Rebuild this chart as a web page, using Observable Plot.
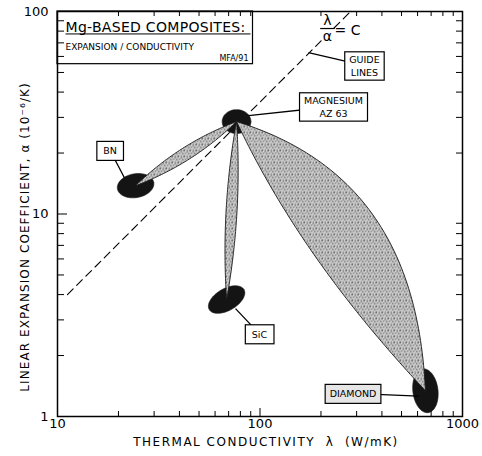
<!DOCTYPE html>
<html><head><meta charset="utf-8">
<script src="https://cdn.jsdelivr.net/npm/d3@7"></script>
<script src="https://cdn.jsdelivr.net/npm/@observablehq/plot@0.6"></script>
<style>html,body{margin:0;padding:0;background:#fff}</style>
</head><body><div id="chart"></div>
<script>
// ---------- data ----------
const materials = ["Magnesium AZ 63", "BN", "SiC", "Diamond"];
const matLambda = [76.6, 24.3, 68.4, 656];      // W/mK (ellipse centres)
const matAlpha  = [28.6, 13.8, 3.78, 1.34];     // 1e-6/K
const matSpreadMajor = [0.071, 0.091, 0.099, 0.109]; // decades
const matSpreadMinor = [0.059, 0.059, 0.054, 0.062]; // decades
const matTilt = [0, 10, 30, 97];                // degrees

const compFrom = [0, 0, 0];
const compTo = [1, 2, 3];
const compBulgeLeft = [0.031, 0.027, 0.286];
const compBulgeRight = [0.031, 0.027, 0.064];
const compSkew = [0, 0, 0.2];

const guideC = 2.8;
const guideLambdaStart = 11.2;
const fracLambda = 215.4, fracAlpha = 82.4, fracHalfWidth = 0.036;

const labelText = ["MAGNESIUM\nAZ 63", "GUIDE\nLINES", "BN", "SiC", "DIAMOND"];
const labelLambda = [230.7, 328, 18.2, 99.4, 288];
const labelAlpha = [33.95, 54.1, 20.6, 2.56, 1.30];
const leaderLambda = [87.8, 173.6, 21.4, 75.7, 606];
const leaderAlpha = [30.6, 62.7, 15.1, 3.41, 1.26];
const labelFill = ["white", "white", "white", "white", "#e6e6e6"];

const titleMain = "Mg-BASED COMPOSITES:";
const titleSub = "EXPANSION / CONDUCTIVITY";
const titleRef = "MFA/91";
const xTitle = "THERMAL CONDUCTIVITY  λ  (W/mK)";
const yTitle = "LINEAR EXPANSION COEFFICIENT, α (10⁻⁶/K)";

const xMajor = [10, 100, 1000];
const xMinor = [20, 30, 40, 50, 60, 70, 80, 90, 200, 300, 400, 500, 600, 700, 800, 900];
const yMajor = [1, 10, 100];
const yMinor = [2, 3, 4, 5, 6, 7, 8, 9, 20, 30, 40, 50, 60, 70, 80, 90];

// ---------- layout ----------
const W = 482, H = 456, mL = 57, mR = 20, mT = 11, mB = 40;
const innerW = W - mL - mR, innerH = H - mT - mB;
const FONT = '"DejaVu Sans", sans-serif';
const log = Math.log10;

function ellipseRows() {
  const rows = [];
  materials.forEach((name, i) => {
    const cx = log(matLambda[i]), cy = log(matAlpha[i]);
    const a = matSpreadMajor[i], b = matSpreadMinor[i], th = matTilt[i] * Math.PI / 180;
    for (let k = 0; k <= 72; k++) {
      const t = 2 * Math.PI * k / 72, ex = a * Math.cos(t), ey = b * Math.sin(t);
      rows.push({name, lambda: 10 ** (cx + ex * Math.cos(th) - ey * Math.sin(th)),
                 alpha: 10 ** (cy + ex * Math.sin(th) + ey * Math.cos(th))});
    }
  });
  return rows;
}
function lensRows() {
  const rows = [];
  compFrom.forEach((f, j) => {
    const to = compTo[j];
    const x0 = log(matLambda[f]), y0 = log(matAlpha[f]), x1 = log(matLambda[to]), y1 = log(matAlpha[to]);
    const dx = x1 - x0, dy = y1 - y0, L = Math.hypot(dx, dy), nx = -dy / L, ny = dx / L;
    const name = materials[f] + " + " + materials[to];
    const s = compSkew[j], N = 60;
    const prof = t => 4 * t * (1 - t) * (1 + s * (0.5 - t));
    for (let k = 0; k <= N; k++) { const t = k / N, p = prof(t) * compBulgeLeft[j];
      rows.push({name, lambda: 10 ** (x0 + t * dx + nx * p), alpha: 10 ** (y0 + t * dy + ny * p)}); }
    for (let k = N; k >= 0; k--) { const t = k / N, p = prof(t) * compBulgeRight[j];
      rows.push({name, lambda: 10 ** (x0 + t * dx - nx * p), alpha: 10 ** (y0 + t * dy - ny * p)}); }
  });
  return rows;
}
const guideRows = [{lambda: guideLambdaStart, alpha: guideLambdaStart / guideC}, {lambda: 100 * guideC, alpha: 100}];
const labels = labelText.map((t, i) => ({t, x: labelLambda[i], y: labelAlpha[i], lx: leaderLambda[i], ly: leaderAlpha[i]}));
const one = [0];

const plot = Plot.plot({
  width: W, height: H, marginLeft: mL, marginRight: mR, marginTop: mT, marginBottom: mB,
  x: {type: "log", domain: [10, 1000], axis: null},
  y: {type: "log", domain: [1, 100], axis: null},
  style: {fontFamily: FONT, fontSize: "10px", background: "white", color: "black"},
  marks: [
    Plot.line(guideRows, {x: "lambda", y: "alpha", stroke: "black", strokeWidth: 1.1, strokeDasharray: "8,5"}),
    Plot.text(one, {x: () => fracLambda, y: () => fracAlpha, text: () => "λ", dy: -8, fontSize: 14, stroke: "white", strokeWidth: 5, fill: "black"}),
    Plot.text(one, {x: () => fracLambda, y: () => fracAlpha, text: () => "α", dy: 8, fontSize: 14, stroke: "white", strokeWidth: 5, fill: "black"}),
    Plot.link(one, {x1: () => fracLambda / 10 ** fracHalfWidth, x2: () => fracLambda * 10 ** fracHalfWidth,
                    y1: () => fracAlpha, y2: () => fracAlpha, stroke: "black", strokeWidth: 1.2}),
    Plot.text(one, {x: () => fracLambda, y: () => fracAlpha, text: () => "= C", dx: 20, dy: 2, fontSize: 14, fill: "black"}),
    Plot.line(ellipseRows(), {x: "lambda", y: "alpha", z: "name", fill: "#141414", stroke: "#141414", strokeWidth: 0.6}),
    Plot.line(lensRows(), {x: "lambda", y: "alpha", z: "name", fill: "#b4b4b4", stroke: "#1a1a1a", strokeWidth: 0.9, ariaDescription: "lenses"}),
    Plot.link(labels, {x1: "lx", y1: "ly", x2: "x", y2: "y", stroke: "black", strokeWidth: 1.3}),
    Plot.text(labels, {x: "x", y: "y", text: "t", fontSize: 9.5, lineHeight: 1.3, fill: "black", ariaDescription: "boxlabels"}),
    Plot.text(one, {frameAnchor: "top-left", text: () => titleMain, dx: 8, dy: 11, textAnchor: "start", fontSize: 14, fill: "black", ariaDescription: "titlemain"}),
    Plot.text(one, {frameAnchor: "top-left", text: () => titleSub, dx: 8, dy: 32.5, textAnchor: "start", fontSize: 9, fill: "black"}),
    Plot.text(one, {frameAnchor: "top-left", text: () => titleRef, dx: 191, dy: 43.5, textAnchor: "end", fontSize: 8, fill: "black", ariaDescription: "titleref"}),
    Plot.tickX(xMinor, {x: d => d, insetTop: innerH - 5, stroke: "black", strokeWidth: 1}),
    Plot.tickX(xMajor, {x: d => d, insetTop: innerH - 8, stroke: "black", strokeWidth: 1}),
    Plot.tickX(xMinor, {x: d => d, insetBottom: innerH - 5, stroke: "black", strokeWidth: 1}),
    Plot.tickY(yMinor, {y: d => d, insetRight: innerW - 7, stroke: "black", strokeWidth: 1}),
    Plot.tickY(yMajor, {y: d => d, insetRight: innerW - 10, stroke: "black", strokeWidth: 1}),
    Plot.tickY(yMinor, {y: d => d, insetLeft: innerW - 6, stroke: "black", strokeWidth: 1}),
    Plot.text(xMajor, {x: d => d, frameAnchor: "bottom", dy: 11, text: d => String(d), fontSize: 13, fill: "black"}),
    Plot.text(yMajor, {y: d => d, frameAnchor: "left", dx: -9, textAnchor: "end", text: d => String(d), fontSize: 13, fill: "black"}),
    Plot.text(one, {frameAnchor: "bottom", text: () => xTitle, dx: 6, dy: 29, textAnchor: "middle", fontSize: 12, fill: "black", ariaDescription: "xtitle"}),
    Plot.text(one, {frameAnchor: "left", text: () => yTitle, rotate: -90, dx: -32, dy: 23, textAnchor: "middle", fontSize: 12, fill: "black", ariaDescription: "ytitle"}),
    Plot.frame({stroke: "black", strokeWidth: 1.5})
  ]
});
document.getElementById("chart").append(plot);

// ---------- post-processing: stipple, boxes, spacing ----------
const ns = "http://www.w3.org/2000/svg";
const svg = plot;
const q = d => svg.querySelector(`g[aria-description="${d}"]`);
const defs = document.createElementNS(ns, "defs");
defs.innerHTML = '<pattern id="stipple" width="6" height="6" patternUnits="userSpaceOnUse">' +
  '<rect width="6" height="6" fill="#e2e2e2"/>' +
  '<circle cx="0.8" cy="1" r="0.78" fill="#2a2a2a"/><circle cx="3.6" cy="0.6" r="0.72" fill="#2a2a2a"/>' +
  '<circle cx="2.2" cy="3.1" r="0.78" fill="#2a2a2a"/><circle cx="5" cy="2.8" r="0.72" fill="#2a2a2a"/>' +
  '<circle cx="0.9" cy="5.1" r="0.72" fill="#2a2a2a"/><circle cx="3.9" cy="5.2" r="0.78" fill="#2a2a2a"/></pattern>';
svg.prepend(defs);
const lensG = q("lenses");
if (lensG) { lensG.setAttribute("fill", "url(#stipple)"); lensG.querySelectorAll("path").forEach(p => p.setAttribute("fill", "url(#stipple)")); }

const sr = svg.getBoundingClientRect();
function box(el) { const r = el.getBoundingClientRect(); return {x1: r.left - sr.left, y1: r.top - sr.top, x2: r.right - sr.left, y2: r.bottom - sr.top}; }

const xt = q("xtitle"); if (xt) xt.setAttribute("letter-spacing", "1.5");
const yt = q("ytitle"); if (yt) yt.setAttribute("letter-spacing", "1.1");
const tmg = q("titlemain"); if (tmg) tmg.setAttribute("letter-spacing", "0.3");

const lg = q("boxlabels");
if (lg) {
  const bg = document.createElementNS(ns, "g");
  lg.querySelectorAll("text").forEach((t, i) => {
    const b = box(t);
    const multi = labelText[i].includes("\n");
    const px = labelText[i].length < 4 ? 6.5 : 4.5, py = multi ? 2.5 : 4;
    const r = document.createElementNS(ns, "rect");
    r.setAttribute("x", b.x1 - px); r.setAttribute("y", b.y1 - py);
    r.setAttribute("width", b.x2 - b.x1 + 2 * px); r.setAttribute("height", b.y2 - b.y1 + 2 * py);
    r.setAttribute("fill", labelFill[i]); r.setAttribute("stroke", "black"); r.setAttribute("stroke-width", "1.2");
    bg.append(r);
  });
  lg.parentNode.insertBefore(bg, lg);
}

// title box and underline
if (tmg && q("titleref")) {
  const tm = box(tmg.querySelector("text"));
  const tr = box(q("titleref").querySelector("text"));
  const right = Math.max(tm.x2, tr.x2) + 4;
  const tbox = document.createElementNS(ns, "rect");
  tbox.setAttribute("x", mL); tbox.setAttribute("y", mT);
  tbox.setAttribute("width", right - mL); tbox.setAttribute("height", tr.y2 + 1 - mT);
  tbox.setAttribute("fill", "none"); tbox.setAttribute("stroke", "black"); tbox.setAttribute("stroke-width", "1.2");
  svg.append(tbox);
  const ul = document.createElementNS(ns, "line");
  ul.setAttribute("x1", tm.x1); ul.setAttribute("x2", right - 2);
  ul.setAttribute("y1", tm.y2 - 1.5); ul.setAttribute("y2", tm.y2 - 1.5);
  ul.setAttribute("stroke", "black"); ul.setAttribute("stroke-width", "1");
  svg.append(ul);
}
</script>
</body></html>
